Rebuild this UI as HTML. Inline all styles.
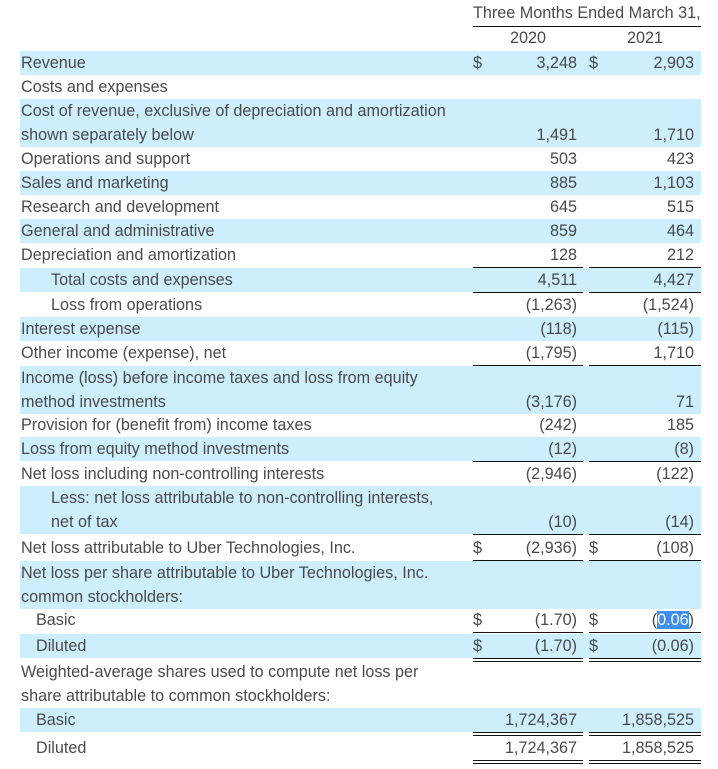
<!DOCTYPE html>
<html><head><meta charset="utf-8">
<style>
body{margin:0;width:718px;height:769px;background:#fff;position:relative;overflow:hidden;font-family:"Liberation Sans",sans-serif;font-size:16.2px;color:#4a4a4a}
div{position:absolute}
.band{left:20px;width:681px;background:#cdeefd}
.lab{left:21px;white-space:nowrap;line-height:24px}
.num{text-align:right;line-height:24px;white-space:nowrap}
.n1{left:453px;width:124px}
.n2{left:569px;width:125px}
.dol{line-height:24px}
.ln{height:1px;background:#111}
.c1{left:473px;width:110px}
.c2{left:589px;width:112px}
.sel{background:#3d8ef0;color:#fff}
</style></head><body>
<div class="lab" style="left:473px;top:1px">Three Months Ended March 31,</div>
<div class="ln" style="left:473px;width:228px;top:26px"></div>
<div class="num" style="left:473px;top:26px;text-align:center;width:110px">2020</div>
<div class="num" style="left:589px;top:26px;text-align:center;width:112px">2021</div>
<div class="ln c1" style="top:51px"></div>
<div class="ln c2" style="top:51px"></div>
<script>
// [top, lines, blue, indent, v1, v2, dollar, lineAfter(0 none,1 single,2 double)]
const rows=[
[51,["Revenue"],1,0,"3,248","2,903",1,0],
[75,["Costs and expenses"],0,0,"","",0,0],
[99,["Cost of revenue, exclusive of depreciation and amortization","shown separately below"],1,0,"1,491","1,710",0,0],
[147,["Operations and support"],0,0,"503","423",0,0],
[171,["Sales and marketing"],1,0,"885","1,103",0,0],
[195,["Research and development"],0,0,"645","515",0,0],
[219,["General and administrative"],1,0,"859","464",0,0],
[243,["Depreciation and amortization"],0,0,"128","212",0,1],
[268,["Total costs and expenses"],1,30,"4,511","4,427",0,1],
[293,["Loss from operations"],0,30,"(1,263)","(1,524)",0,0],
[317,["Interest expense"],1,0,"(118)","(115)",0,0],
[341,["Other income (expense), net"],0,0,"(1,795)","1,710",0,1],
[366,["Income (loss) before income taxes and loss from equity","method investments"],1,0,"(3,176)","71",0,0],
[413,["Provision for (benefit from) income taxes"],0,0,"(242)","185",0,0],
[437,["Loss from equity method investments"],1,0,"(12)","(8)",0,1],
[462,["Net loss including non-controlling interests"],0,0,"(2,946)","(122)",0,0],
[486,["Less: net loss attributable to non-controlling interests,","net of tax"],1,30,"(10)","(14)",0,1],
[536,["Net loss attributable to Uber Technologies, Inc."],0,0,"(2,936)","(108)",1,2],
[561,["Net loss per share attributable to Uber Technologies, Inc.","common stockholders:"],1,0,"","",0,0],
[608,["Basic"],0,15,"(1.70)","(<span class=\"sel\">0.06</span>)",1,2],
[634,["Diluted"],1,15,"(1.70)","(0.06)",1,2],
[660,["Weighted-average shares used to compute net loss per","share attributable to common stockholders:"],0,0,"","",0,0],
[708,["Basic"],1,15,"1,724,367","1,858,525",0,2],
[736,["Diluted"],0,15,"1,724,367","1,858,525",0,2]
];
rows.forEach((r,i)=>{
  const [top,lines,blue,ind,v1,v2,dol,after]=r;
  const h=lines.length*24;
  if(blue){const b=document.createElement('div');b.className='band';b.style.top=top+'px';b.style.height=h+'px';
    
    
    document.body.appendChild(b);}
  const l=document.createElement('div');l.className='lab';l.style.top=top+'px';l.style.left=(21+ind)+'px';
  l.innerHTML=lines.join('<br>');
  
  
  document.body.appendChild(l);
  const vt=top+(lines.length-1)*24;
  [[v1,'n1',473],[v2,'n2',589]].forEach(([v,c,x])=>{
    if(v){const n=document.createElement('div');n.className='num '+c;n.style.top=vt+'px';n.innerHTML=v;
      
      
      document.body.appendChild(n);}
    if(dol){const d=document.createElement('div');d.className='dol';d.style.left=x+'px';d.style.top=vt+'px';d.textContent='$';
      
      
      document.body.appendChild(d);}
    if(after){const y=vt+24;
      for(let k=0;k<after;k++){const ln=document.createElement('div');ln.className='ln '+(c==='n1'?'c1':'c2');ln.style.top=(y+k*3)+'px';
        
        
        document.body.appendChild(ln);}}
  });
});
</script>
</body></html>
